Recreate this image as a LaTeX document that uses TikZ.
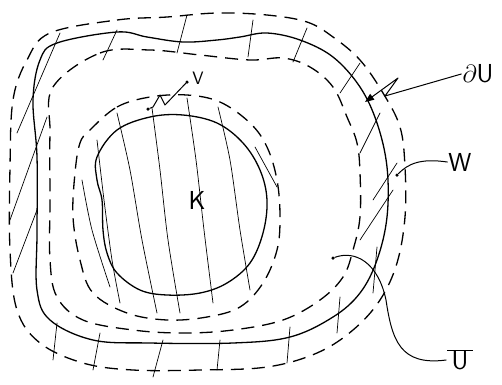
\documentclass[tikz,border=0pt]{standalone}
\usetikzlibrary{arrows.meta}
\begin{document}
\begin{tikzpicture}[x=1pt,y=-1pt,
  solidc/.style={line width=1.3pt, line join=round},
  dashc/.style={line width=1.3pt, dash pattern=on 13pt off 8pt},
  hatch/.style={line width=0.7pt, line cap=round},
  conn/.style={line width=1pt, line cap=round, line join=round},
  lab/.style={inner sep=1pt, font=\fontsize{26}{28}\selectfont\sffamily},
  dotc/.style={circle, fill=black, inner sep=0pt, minimum size=3.5pt}]
\useasboundingbox (0,0) rectangle (502,384);

% outer dashed boundary
\draw[dashc] plot[smooth cycle, tension=0.6] coordinates {(50,33) (117,20) (167,17) (217,13) (267,15) (307,22) (333,37) (360,60) (383,93) (400,127) (405,167) (405,217) (397,263) (380,300) (353,330) (317,353) (267,367) (200,370) (133,370) (83,363) (40,343) (17,310) (10,250) (10,167) (13,100) (27,60)};

% solid boundary dU
\draw[solidc] plot[smooth cycle, tension=0.6] coordinates {(57,43) (117,32) (147,37) (183,42) (217,40) (240,37) (267,33) (300,40) (333,57) (360,87) (377,123) (387,167) (387,217) (377,260) (360,293) (333,317) (290,337) (233,343) (150,343) (93,340) (50,320) (37,290) (37,233) (37,157) (33,100) (40,60)};

% inner dashed boundary
\draw[dashc] plot[smooth cycle, tension=0.6] coordinates {(53,87) (100,53) (150,50) (200,55) (250,60) (283,58) (310,67) (333,87) (347,117) (357,143) (360,173) (360,217) (353,250) (343,277) (320,300) (283,320) (233,330) (183,333) (133,330) (83,320) (57,297) (50,260) (50,200) (50,133)};

% dashed V
\draw[dashc] plot[smooth cycle, tension=0.6] coordinates {(90,130) (117,107) (150,97) (187,95) (220,102) (250,123) (267,147) (277,180) (280,217) (277,250) (263,283) (240,307) (207,317) (167,320) (127,313) (93,293) (80,260) (73,217) (75,173) (80,143)};

% K
\draw[solidc] plot[smooth cycle, tension=0.6] coordinates {(97,157) (117,130) (150,117) (183,115) (217,123) (243,143) (260,170) (267,200) (263,233) (250,263) (227,283) (200,293) (167,295) (140,290) (117,273) (107,253) (103,230) (102,200) (97,180)};

% hatching inside V
\draw[hatch] plot[smooth] coordinates {(117,113) (130,170) (142,240) (157,313)};
\draw[hatch] plot[smooth] coordinates {(152,108) (160,170) (168,240) (180,313)};
\draw[hatch] plot[smooth] coordinates {(187,98) (196,160) (204,230) (213,303)};
\draw[hatch] plot[smooth] coordinates {(218,107) (230,160) (240,230) (250,290)};
\draw[hatch] plot[smooth] coordinates {(97,140) (104,200) (112,260) (120,303)};
\draw[hatch] plot[smooth] coordinates {(82,180) (92,230) (110,287)};
\draw[hatch] (255,147) -- (277,187);

% hatching across W
\draw[hatch] (117,30) -- (103,60);
\draw[hatch] (187,15) -- (177,53);
\draw[hatch] (253,20) -- (248,57);
\draw[hatch] (307,28) -- (293,62);
\draw[hatch] (360,63) -- (340,93);
\draw[hatch] (380,113) -- (360,153);
\draw[hatch] (397,163) -- (373,200);
\draw[hatch] (393,190) -- (360,240);
\draw[hatch] (377,247) -- (373,293);
\draw[hatch] (340,297) -- (337,333);
\draw[hatch] (290,327) -- (287,363);
\draw[hatch] (220,340) -- (217,370);
\draw[hatch] (163,340) -- (153,377);
\draw[hatch] (100,333) -- (93,370);
\draw[hatch] (57,323) -- (53,360);
\draw[hatch] (60,33) -- (17,133);
\draw[hatch] (47,117) -- (10,220);
\draw[hatch] (37,210) -- (13,273);

% labels
\node[lab] (du) at (478,74) {$\partial$U};
\node[lab] (w) at (460,162) {W};
\node[lab, font=\fontsize{18}{20}\selectfont\sffamily] (v) at (198,78) {V};
\node[lab] (k) at (197,200) {K};
\node[lab] (ubar) at (460,360) {$\overline{\mbox{\,U\,}}$};

% connectors
\coordinate (duA) at (385,96);
\coordinate (duB) at (398,78);
\coordinate (duTip) at (365,102);
\draw[conn, -{Triangle[length=9pt,width=7pt]}] (du.west) -- (duA) -- (duB) -- (duTip);

\node[dotc] (wdot) at (397,175) {};
\draw[conn] (w.west) .. controls (420,158) and (408,164) .. (wdot);

\node[dotc] (vdot1) at (187,82) {};
\node[dotc] (vdot2) at (148,109) {};
\coordinate (vz1) at (165,105);
\coordinate (vz2) at (160,95);
\coordinate (vz3) at (153,107);
\draw[conn] (vdot1) -- (vz1) -- (vz2) -- (vz3) -- (vdot2);

\node[dotc] (udot) at (333,258) {};
\draw[conn] (udot) .. controls (355,250) and (378,262) .. (386,300)
  .. controls (392,340) and (400,366) .. (ubar.west);
\end{tikzpicture}
\end{document}
